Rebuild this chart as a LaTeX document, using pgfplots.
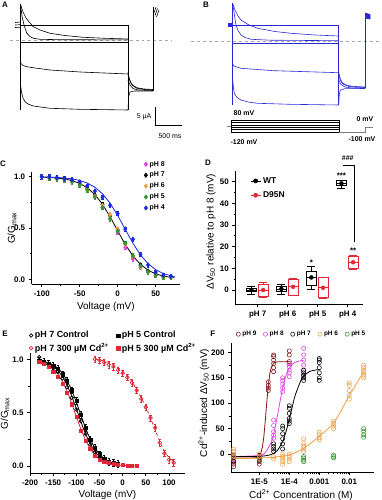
\documentclass[border=0pt]{standalone}
\usepackage{fontspec}
\setmainfont{Liberation Sans}
\usepackage{pgfplots}
\pgfplotsset{compat=1.18}
\usepgfplotslibrary{statistics}
\definecolor{cMag}{RGB}{228,64,228}
\definecolor{cOra}{RGB}{240,160,70}
\definecolor{cGre}{RGB}{50,150,50}
\definecolor{cBlu}{RGB}{25,40,225}
\definecolor{cDred}{RGB}{130,20,20}
\definecolor{cRed}{RGB}{225,40,55}
\definecolor{trB}{RGB}{40,40,215}
\pgfplotsset{
  orig/.style={scale only axis, anchor=south west, clip=false,
    axis x line*=bottom, axis y line*=left, axis line style={-,line width=0.8bp},
    tick align=outside, major tick length=3bp, minor tick length=1.8bp,
    every tick/.style={black,line width=0.7bp},
    tick label style={font=\fontsize{8}{9}\selectfont\bfseries},
    label style={font=\fontsize{8}{9}\selectfont\bfseries},
    legend style={draw=none,fill=none,inner sep=0pt,font=\fontsize{7}{8}\selectfont\bfseries},
    legend cell align=left},
  dotleg/.style={legend image code/.code={\draw[##1] plot coordinates {(0.08cm,0cm)};}},
  tA/.style={black,line width=0.6bp},
  tB/.style={trB,line width=0.6bp},
}
\newcommand{\fs}[1]{\fontsize{#1}{#1}\selectfont}
\begin{document}
\begin{tikzpicture}
\path[use as bounding box] (0,0) rectangle (382bp,500bp);
% ---------------- A and B traces (pixel frame) ----------------
\begin{axis}[scale only axis, anchor=south west, at={(0bp,350bp)}, width=382bp, height=150bp,
  xmin=0, xmax=382, ymin=0, ymax=150, y dir=reverse, hide axis, clip=false]
% A
\addplot[gray!70, dashed, line width=0.8bp] coordinates {(10,40.7) (172,40.7)};
\addplot[tA] coordinates {(20.7,4) (20.7,110)};
\addplot[tA] coordinates {(20.7,25) (128,25)};
\addplot[tA] coordinates {(128,25) (128,110)};
\addplot[tA] coordinates {(20.7,42.7) (128,42.7)};
\addplot[tA] coordinates {(20.7,6) (22,16) (24,25) (26.7,33) (30,36.5) (33.3,38.3) (40,39.3) (60,39.7) (128,39.9)};
\addplot[tA] coordinates {(20.7,5) (23,12) (26,18) (30,23) (33.3,26.7) (40,30) (50,33.3) (65,35.5) (83,37.3) (105,38.3) (128,39)};
\addplot[tA] coordinates {(20.7,63.3) (23,65.5) (26.7,66.7) (35,68) (50,70) (80,72) (128,74)};
\addplot[tA] coordinates {(20.7,86) (21.7,93.3) (23,98) (25,101.7) (28,104) (33.3,106) (50,108.3) (80,109.3) (128,110)};
\addplot[tA] coordinates {(128,72) (129,78) (131,83) (134,86) (138,88) (144,89) (153,89.5)};
\addplot[tA] coordinates {(128,74) (130,81) (132,85) (136,88) (142,89.3) (153,90)};
\addplot[tA] coordinates {(128,80) (130,85) (133,88.5) (138,90) (153,90.5)};
\addplot[tA] coordinates {(128,110) (128.7,96) (130,92) (134,91) (153,91)};
\addplot[tA] coordinates {(153,91) (153,7)};
\addplot[tA] coordinates {(153.5,14) (156,7)};
\addplot[tA] coordinates {(155,15.5) (157.5,8.5)};
\addplot[tA] coordinates {(156.5,17) (159,10)};
\addplot[tA] coordinates {(15,22.5) (20.7,22)};
\addplot[tA] coordinates {(15,25) (20.7,24.7)};
\addplot[tA] coordinates {(15,27.5) (20.7,27.3)};
\addplot[black,line width=0.7bp] coordinates {(155,107) (155,125) (182,125)};
\node[font=\fs{7}] at (axis cs:144,117) {5 µA};
\node[font=\fs{7}] at (axis cs:170,136) {500 ms};
% B
\addplot[gray!70, dashed, line width=0.8bp] coordinates {(191,41.7) (382,41.7)};
\addplot[tB] coordinates {(232.7,3) (232.7,105)};
\addplot[tB] coordinates {(232.7,25) (338.7,25)};
\addplot[tB] coordinates {(338.7,25) (338.7,105)};
\addplot[tB] coordinates {(232.7,43.3) (338.7,43.3)};
\addplot[tB] coordinates {(232.7,3.3) (235,10) (238,16) (241,20) (248,24.5) (257.7,28.3) (275,31.5) (291,33.3) (315,35) (338.7,36)};
\addplot[tB] coordinates {(232.7,5) (233.7,10) (235,19) (236,25) (238,30.5) (241,35) (245,37.5) (251,39.3) (270,40.2) (338.7,40.7)};
\addplot[tB] coordinates {(232.7,64) (233.7,66) (241,68.3) (274,70.7) (338.7,72.7)};
\addplot[tB] coordinates {(232.7,80) (233.5,88) (234.3,93.3) (237,97.5) (241,100) (248,102) (257.7,103.3) (290,104.3) (338.7,105)};
\addplot[tB] coordinates {(338.7,72) (340,78) (342,82.5) (346,85) (352,86.3) (365,87)};
\addplot[tB] coordinates {(338.7,75) (340.5,80.5) (343,84) (348,86.2) (355,87.2) (365,87.5)};
\addplot[tB] coordinates {(338.7,80) (341,84.5) (345,87) (352,88) (365,88.3)};
\addplot[tB] coordinates {(338.7,105) (339.3,94) (340.5,90) (345,88.7) (365,88.5)};
\addplot[tB] coordinates {(365,88.5) (365,13)};
\addplot[tB, fill=trB] coordinates {(365,13) (370,14.5) (370,19) (365,18)};
\addplot[tB, fill=trB] coordinates {(228.3,23.3) (232.7,23.3) (232.7,26.7) (228.3,26.7)};
% protocol
\addplot[black,line width=0.5bp] coordinates {(231,120) (339.3,120)};
\addplot[black,line width=0.5bp] coordinates {(231,122.4) (339.3,122.4)};
\addplot[black,line width=0.5bp] coordinates {(231,124.8) (339.3,124.8)};
\addplot[black,line width=0.5bp] coordinates {(231,127.2) (339.3,127.2)};
\addplot[black,line width=0.5bp] coordinates {(231,129.6) (339.3,129.6)};
\addplot[black,line width=0.5bp] coordinates {(231,132.3) (339.3,132.3)};
\addplot[black,line width=0.5bp] coordinates {(231,120) (231,132.3)};
\addplot[black,line width=0.5bp] coordinates {(339.3,120) (339.3,132.3)};
\addplot[gray,line width=0.7bp] coordinates {(227,126.7) (231,126.7)};
\addplot[gray,line width=0.7bp] coordinates {(339.3,132.3) (365,132.3) (365,127) (373,127)};
\node[font=\fs{7}\bfseries] at (axis cs:244,113) {80 mV};
\node[font=\fs{7}\bfseries] at (axis cs:244,142) {-120 mV};
\node[font=\fs{7}\bfseries] at (axis cs:365,119) {0 mV};
\node[font=\fs{7}\bfseries] at (axis cs:362,139) {-100 mV};
\end{axis}
% ---------------- C ----------------
\begin{axis}[orig, at={(31.7bp,215.6bp)}, width=148.3bp, height=112.8bp,
  xmin=-113.2, xmax=82, ymin=-0.05, ymax=1.05,
  xtick={-100,-50,0,50}, xticklabels={-100,-50,0,50}, minor x tick num=1,
  ytick={0,0.5,1}, yticklabels={0.0,0.5,1.0}, minor y tick num=1,
  xlabel={Voltage (mV)}, ylabel={G/G\textsubscript{max}},
  every axis x label/.style={at={(axis description cs:0.5,-0.198)},anchor=center},
  every axis y label/.style={at={(axis description cs:-0.133,0.5)},rotate=90,anchor=center},
  legend style={at={(axis description cs:0.757,1.112)},anchor=north west,row sep=0.6bp}, dotleg,
  eb/.style={error bars/.cd, y dir=both, y fixed=0.02, error bar style={line width=0.5bp}, error mark options={rotate=90,mark size=1.3bp,line width=0.5bp}}]
\addplot[black, line width=0.8bp, forget plot] coordinates {(-100,0.9957) (-90,0.9925) (-80,0.987) (-70,0.978) (-60,0.962) (-50,0.935) (-40,0.892) (-30,0.826) (-20,0.731) (-10,0.609) (0,0.472) (10,0.339) (20,0.228) (30,0.145) (40,0.088) (50,0.053) (60,0.031) (70,0.018) (75,0.0137)};
\addplot[cBlu, line width=0.8bp, forget plot] coordinates {(-100,0.998) (-90,0.996) (-80,0.993) (-70,0.988) (-60,0.979) (-50,0.964) (-40,0.938) (-30,0.897) (-20,0.834) (-10,0.742) (0,0.622) (10,0.486) (20,0.352) (30,0.237) (40,0.152) (50,0.093) (60,0.056) (70,0.033) (75,0.025)};
\addplot[cMag, only marks, mark=diamond*, mark size=2.3bp, eb] coordinates {(-100,1.00) (-90,0.99) (-80,0.98) (-70,0.97) (-60,0.95) (-50,0.93) (-40,0.88) (-30,0.80) (-20,0.70) (-10,0.59) (0,0.46) (10,0.31) (20,0.20) (30,0.12) (40,0.07) (50,0.04) (60,0.03) (70,0.02)};
\addlegendentry{pH 8}
\addplot[black, only marks, mark=diamond*, mark size=2.3bp, eb] coordinates {(-100,1.00) (-90,0.99) (-80,0.99) (-70,0.98) (-60,0.96) (-50,0.94) (-40,0.89) (-30,0.82) (-20,0.73) (-10,0.62) (0,0.48) (10,0.35) (20,0.22) (30,0.14) (40,0.08) (50,0.05) (60,0.03) (70,0.02)};
\addlegendentry{pH 7}
\addplot[cOra, only marks, mark=diamond*, mark size=2.3bp, eb] coordinates {(-100,1.00) (-90,0.99) (-80,0.98) (-70,0.97) (-60,0.95) (-50,0.93) (-40,0.88) (-30,0.81) (-20,0.72) (-10,0.63) (0,0.49) (10,0.34) (20,0.22) (30,0.12) (40,0.07) (50,0.04) (60,0.03) (70,0.02)};
\addlegendentry{pH 6}
\addplot[cGre, only marks, mark=diamond*, mark size=2.3bp, eb] coordinates {(-100,1.00) (-90,0.99) (-80,0.98) (-70,0.97) (-60,0.95) (-50,0.92) (-40,0.87) (-30,0.80) (-20,0.70) (-10,0.59) (0,0.47) (10,0.35) (20,0.23) (30,0.13) (40,0.07) (50,0.04) (60,0.02) (70,0.02)};
\addlegendentry{pH 5}
\addplot[cBlu, only marks, mark=diamond*, mark size=2.3bp, eb] coordinates {(-100,1.00) (-90,1.00) (-80,0.99) (-70,0.98) (-60,0.97) (-50,0.95) (-40,0.91) (-30,0.86) (-20,0.80) (-10,0.72) (0,0.64) (10,0.49) (20,0.39) (30,0.24) (40,0.14) (50,0.07) (60,0.04) (70,0.03)};
\addlegendentry{pH 4}
\end{axis}
% ---------------- D ----------------
\begin{axis}[orig, at={(235.3bp,195.9bp)}, width=127.4bp, height=133.3bp,
  xmin=0.253, xmax=4.5, ymin=-6.5, ymax=55,
  xtick={1,2,3,4}, xticklabels={pH 7,pH 6,pH 5,pH 4},
  ytick={0,10,20,30,40,50}, yticklabels={0,10,20,30,40,50}, minor y tick num=1,
  ylabel={ΔV\textsubscript{50} relative to pH 8 (mV)},
  every axis y label/.style={at={(axis description cs:-0.19,0.543)},rotate=90,anchor=center},
  boxplot/draw direction=y,
  legend style={at={(axis description cs:0.115,0.968)},anchor=north west,row sep=3bp,font=\fs{8.5}\bfseries},
  legend image code/.code={\draw[mark repeat=2,mark phase=2,#1] plot coordinates {(0cm,0cm) (0.18cm,0cm) (0.36cm,0cm)};}]
\addlegendimage{black, line width=0.7bp, mark=*, mark size=2bp}
\addlegendentry{WT}
\addlegendimage{cRed, line width=0.7bp, mark=*, mark size=2bp}
\addlegendentry{D95N}
\addplot[black, line width=0.7bp, boxplot prepared={draw position=0.79, lower whisker=-1.8, lower quartile=-0.8, median=0, upper quartile=0.7, upper whisker=1.5, box extend=0.33}] coordinates {};
\addplot[black, line width=0.7bp, boxplot prepared={draw position=1.79, lower whisker=-2, lower quartile=-0.8, median=0.5, upper quartile=1.5, upper whisker=2.6, box extend=0.33}] coordinates {};
\addplot[black, line width=0.7bp, boxplot prepared={draw position=2.79, lower whisker=0.5, lower quartile=2, median=5.8, upper quartile=8.5, upper whisker=11, box extend=0.33}] coordinates {};
\addplot[black, line width=0.7bp, boxplot prepared={draw position=3.79, lower whisker=46.9, lower quartile=48.1, median=49.2, upper quartile=50.4, upper whisker=50.8, box extend=0.33}] coordinates {};
\addplot[cRed, line width=0.7bp, boxplot prepared={draw position=1.18, lower whisker=-3.5, lower quartile=-2.8, median=0, upper quartile=2.8, upper whisker=3.6, box extend=0.33}] coordinates {};
\addplot[cRed, line width=0.7bp, boxplot prepared={draw position=2.18, lower whisker=-2.5, lower quartile=-2.3, median=1.5, upper quartile=4.9, upper whisker=5.4, box extend=0.33}] coordinates {};
\addplot[cRed, line width=0.7bp, boxplot prepared={draw position=3.18, lower whisker=-3.8, lower quartile=-3.6, median=1, upper quartile=5.8, upper whisker=6, box extend=0.33}] coordinates {};
\addplot[cRed, line width=0.7bp, boxplot prepared={draw position=4.18, lower whisker=9.5, lower quartile=10, median=12.8, upper quartile=15.7, upper whisker=16, box extend=0.33}] coordinates {};
\addplot[black, only marks, mark=*, mark size=2bp] coordinates {(0.79,0) (1.79,0.5) (2.79,5.8) (3.79,49.2)};
\addplot[cRed, only marks, mark=*, mark size=2bp] coordinates {(1.18,0) (2.18,1.5) (3.18,1) (4.18,12.8)};
\draw[black, line width=0.7bp] (axis cs:3.83,57.7) -- (axis cs:4.22,57.7) -- (axis cs:4.22,22.3);
\node[font=\fs{8}\bfseries] at (axis cs:2.79,12.5) {*};
\node[font=\fs{8}\bfseries] at (axis cs:3.79,52.5) {***};
\node[font=\fs{8}\bfseries] at (axis cs:4.18,18) {**};
\node[font=\fs{7}\bfseries] at (axis cs:4.0,61) {\#\#\#};
\end{axis}
% ---------------- E ----------------
\begin{axis}[orig, at={(30bp,26.7bp)}, width=155bp, height=120bp,
  xmin=-200, xmax=134.5, ymin=-0.068, ymax=1.056,
  xtick={-200,-150,-100,-50,0,50,100}, xticklabels={-200,-150,-100,-50,0,50,100}, minor x tick num=1,
  ytick={0,0.5,1}, yticklabels={0.0,0.5,1.0}, minor y tick num=1,
  xlabel={Voltage (mV)}, ylabel={G/G\textsubscript{max}},
  every axis x label/.style={at={(axis description cs:0.5,-0.181)},anchor=center},
  every axis y label/.style={at={(axis description cs:-0.161,0.5)},rotate=90,anchor=center},
  legend columns=2, legend style={at={(axis description cs:-0.006,1.2)},anchor=north west,font=\fs{9}\bfseries,
    /tikz/every even column/.append style={column sep=6bp}}, dotleg,
  eb/.style={error bars/.cd, y dir=both, y fixed=0.03, error bar style={line width=0.5bp}, error mark options={rotate=90,mark size=1.2bp,line width=0.5bp}}]
\addplot[black, line width=0.8bp, forget plot] coordinates {(-185,0.988) (-180,0.984) (-170,0.975) (-160,0.959) (-150,0.934) (-140,0.896) (-130,0.839) (-120,0.760) (-110,0.657) (-100,0.537) (-90,0.413) (-80,0.299) (-70,0.206) (-60,0.136) (-50,0.087) (-40,0.055) (-30,0.034) (-20,0.021) (-10,0.013)};
\addplot[black, line width=0.8bp, forget plot] coordinates {(-185,0.991) (-180,0.988) (-170,0.980) (-160,0.968) (-150,0.948) (-140,0.917) (-130,0.870) (-120,0.802) (-110,0.711) (-100,0.599) (-90,0.475) (-80,0.354) (-70,0.25) (-60,0.168) (-50,0.109) (-40,0.069) (-30,0.043) (-20,0.027) (-10,0.016)};
\addplot[cRed, line width=0.8bp, forget plot] coordinates {(-185,0.984) (-180,0.979) (-170,0.966) (-160,0.945) (-150,0.913) (-140,0.864) (-130,0.794) (-120,0.701) (-110,0.587) (-100,0.463) (-90,0.343) (-80,0.240) (-70,0.161) (-60,0.104) (-50,0.066) (-40,0.041) (-30,0.026) (-20,0.016) (-10,0.010) (0,0.006) (10,0.004) (20,0.002) (30,0.001)};
\addplot[cRed, dashed, line width=0.8bp, smooth, forget plot] coordinates {(-60,1.0) (-40,0.985) (-20,0.95) (0,0.89) (20,0.79) (40,0.64) (50,0.55) (60,0.45) (70,0.34) (80,0.23) (90,0.14) (100,0.08) (115,0.03)};
\addplot[black, only marks, mark=o, mark size=1.8bp, mark options={line width=0.7bp}] coordinates {(-180,1.02) (-170,0.97) (-160,0.95) (-150,0.92) (-140,0.88) (-130,0.82) (-120,0.74) (-110,0.64) (-100,0.53) (-90,0.42) (-80,0.30) (-70,0.20) (-60,0.13) (-50,0.08) (-40,0.05) (-30,0.03) (-20,0.02)};
\addlegendentry{pH 7 Control}
\addplot[black, only marks, mark=square*, mark size=1.6bp, eb] coordinates {(-180,0.99) (-170,0.98) (-160,0.96) (-150,0.94) (-140,0.91) (-130,0.86) (-120,0.80) (-110,0.71) (-100,0.61) (-90,0.48) (-80,0.36) (-70,0.25) (-60,0.17) (-50,0.11) (-40,0.07) (-30,0.04) (-20,0.03) (-10,0.02)};
\addlegendentry{pH 5 Control}
\addplot[cRed, only marks, mark=o, mark size=1.8bp, mark options={line width=0.7bp}, eb] coordinates {(-60,1.00) (-50,0.99) (-40,0.97) (-30,0.95) (-20,0.93) (-10,0.90) (0,0.87) (10,0.83) (20,0.78) (30,0.71) (40,0.63) (50,0.55) (60,0.45) (70,0.36) (80,0.22) (90,0.12) (100,0.06) (110,0.03)};
\addlegendentry{pH 7 300 µM Cd\textsuperscript{2+}}
\addplot[cRed, only marks, mark=square*, mark size=1.6bp] coordinates {(-180,0.98) (-170,0.96) (-160,0.93) (-150,0.88) (-140,0.84) (-130,0.77) (-120,0.69) (-110,0.58) (-100,0.46) (-90,0.33) (-80,0.24) (-70,0.16) (-60,0.10) (-50,0.06) (-40,0.04) (-30,0.03) (-20,0.02) (-10,0.01) (0,0.01) (10,0.005) (20,0.003) (30,0.002)};
\addlegendentry{pH 5 300 µM Cd\textsuperscript{2+}}
\end{axis}
% ---------------- F ----------------
\begin{axis}[orig, at={(231bp,27.7bp)}, width=142.7bp, height=129bp,
  xmode=log, xmin=1.14e-6, xmax=0.065, ymin=-36, ymax=218,
  xtick={1e-5,1e-4,1e-3,1e-2}, xticklabels={1E-5,1E-4,0.001,0.01},
  ytick={0,50,100,150,200}, yticklabels={0,50,100,150,200}, minor y tick num=1,
  xlabel={Cd\textsuperscript{2+} Concentration (M)}, ylabel={Cd\textsuperscript{2+}-induced ΔV\textsubscript{50} (mV)},
  every axis x label/.style={at={(axis description cs:0.49,-0.176)},anchor=center},
  every axis y label/.style={at={(axis description cs:-0.19,0.537)},rotate=90,anchor=center},
  legend columns=5, legend style={at={(axis description cs:0.035,1.111)},anchor=north west,font=\fs{6.5}\bfseries,
    /tikz/every even column/.append style={column sep=5bp}}, dotleg,
  cm/.style={only marks, mark=o, mark size=2.1bp, mark options={line width=0.55bp}}]
\addplot[cDred, cm] coordinates {(1.4e-6,-5) (1.4e-6,-10) (1.4e-6,-15) (1.4e-6,-20) (1.4e-6,-25) (1e-5,-5) (1e-5,-10) (1e-5,-15) (1e-5,-20) (2e-5,125) (2e-5,130) (2e-5,135) (2e-5,142) (3e-5,162) (3e-5,170) (3e-5,178) (3e-5,185) (3e-5,192) (3e-5,195) (1e-4,178) (1e-4,182) (1e-4,195) (1e-4,203)};
\addlegendentry{pH 9}
\addplot[cMag, cm] coordinates {(1.4e-6,-3) (1.4e-6,-8) (1.4e-6,-12) (1e-5,-2) (1e-5,-6) (3e-5,31) (3e-5,37) (3e-5,44) (3e-5,56) (3e-5,67) (6e-5,123) (6e-5,130) (6e-5,138) (6e-5,145) (6e-5,150) (1e-4,152) (1e-4,160) (1e-4,165) (1e-4,172) (1e-4,178) (3e-4,155) (3e-4,165) (3e-4,175) (3e-4,185) (3e-4,195) (3e-4,208)};
\addlegendentry{pH 8}
\addplot[black, cm] coordinates {(1.4e-6,-2) (1.4e-6,-6) (1.4e-6,-10) (1.4e-6,-14) (1e-5,-3) (1e-5,-8) (1e-5,-12) (3e-5,5) (3e-5,10) (3e-5,15) (3e-5,20) (6e-5,10) (6e-5,20) (6e-5,30) (6e-5,40) (6e-5,50) (6e-5,55) (1e-4,60) (1e-4,65) (1e-4,70) (1e-4,80) (1e-4,90) (1e-4,95) (3e-4,145) (3e-4,150) (3e-4,155) (3e-4,160) (3e-4,165) (1e-3,145) (1e-3,150) (1e-3,160) (1e-3,170) (1e-3,180) (1e-3,185) (1e-3,188)};
\addlegendentry{pH 7}
\addplot[cOra, cm] coordinates {(1.4e-6,10) (1.4e-6,5) (1.4e-6,0) (1.4e-6,-5) (1.4e-6,-10) (1e-5,0) (1e-5,-5) (1e-5,-10) (3e-5,-5) (3e-5,-10) (6e-5,0) (6e-5,-5) (6e-5,-10) (6e-5,-15) (6e-5,-20) (1e-4,0) (1e-4,-5) (1e-4,-10) (1e-4,-15) (3e-4,5) (3e-4,10) (3e-4,15) (3e-4,20) (3e-4,30) (1e-3,28) (1e-3,32) (1e-3,38) (1e-3,43) (3e-3,50) (3e-3,55) (3e-3,60) (3e-3,65) (1e-2,108) (1e-2,115) (1e-2,125) (1e-2,135) (1e-2,140) (3e-2,150) (3e-2,155) (3e-2,160) (3e-2,165) (3e-2,170) (3e-2,175)};
\addlegendentry{pH 6}
\addplot[cGre, cm] coordinates {(3e-4,-5) (3e-4,-8) (3e-4,-12) (3e-4,-15) (3e-3,-2) (3e-3,-5) (3e-3,-8) (3e-2,33) (3e-2,38) (3e-2,45) (3e-2,50)};
\addlegendentry{pH 5}
\addplot[cDred, line width=0.8bp, forget plot] coordinates {(1.4e-6,-8) (5e-6,-8) (7.94e-6,-7.1) (1e-5,-3.4) (1.12e-5,1.9) (1.26e-5,12.8) (1.41e-5,33) (1.58e-5,64.5) (1.78e-5,102) (2e-5,135.5) (2.24e-5,158) (2.51e-5,170.5) (2.82e-5,176.7) (3.16e-5,179.6) (4e-5,181.5) (1e-4,182)};
\addplot[cMag, line width=0.8bp, smooth, forget plot] coordinates {(1.4e-6,-5) (1e-5,-2.9) (1.58e-5,3.1) (2.51e-5,23.7) (3.16e-5,44.7) (3.98e-5,73.8) (5.01e-5,106) (6.31e-5,135) (7.94e-5,156) (1e-4,169.5) (1.58e-4,180.8) (3e-4,184.6)};
\addplot[black, line width=0.8bp, smooth, forget plot] coordinates {(1.4e-6,-5) (1e-5,-4.6) (2.51e-5,-1) (3.98e-5,7) (6.03e-5,25) (7.94e-5,46) (1e-4,68.8) (1.26e-4,93.3) (1.58e-4,116) (2.51e-4,146.8) (3.02e-4,153.7) (5.01e-4,163) (1e-3,166.3)};
\addplot[cOra, line width=0.8bp, smooth, forget plot] coordinates {(1.4e-6,-9) (1e-5,-8) (3.16e-5,-6) (1e-4,-2) (3.16e-4,12) (1e-3,35) (3.16e-3,63) (1e-2,115) (3e-2,162)};
\end{axis}
% panel letters
\node[font=\fs{8}\bfseries] at (5bp,495bp) {A};
\node[font=\fs{8}\bfseries] at (206bp,495bp) {B};
\node[font=\fs{8}\bfseries] at (3bp,336bp) {C};
\node[font=\fs{8}\bfseries] at (208bp,337bp) {D};
\node[font=\fs{8}\bfseries] at (5bp,166bp) {E};
\node[font=\fs{8}\bfseries] at (212.7bp,166bp) {F};
\end{tikzpicture}
\end{document}
